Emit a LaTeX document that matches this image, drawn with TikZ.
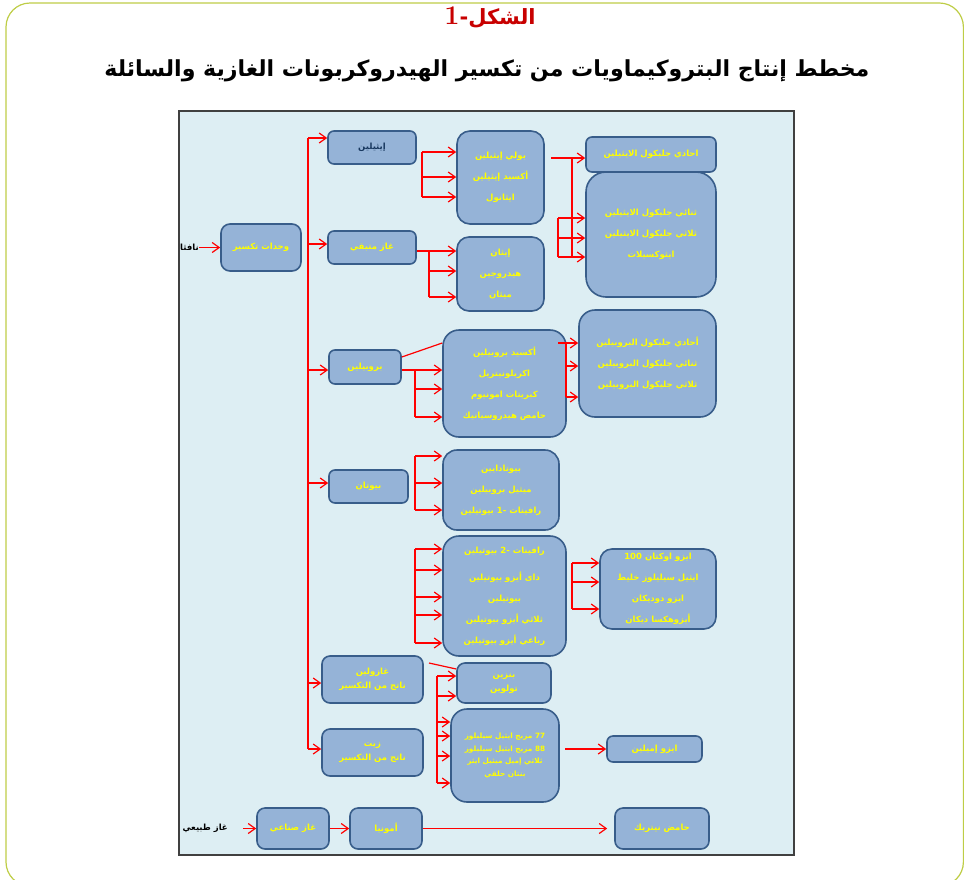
\documentclass[tikz,border=0pt]{standalone}
\usepackage{fontspec}
\usepackage{graphicx}
\usetikzlibrary{arrows.meta}
\TeXXeTstate=1
\newfontfamily\arabicfont[Script=Arabic]{DejaVu Sans}
\newcommand{\AR}[1]{\beginR #1\endR}
\newcommand{\LRn}[1]{\beginL #1\endL{}}
\definecolor{panelbg}{RGB}{221,238,243}
\definecolor{panelline}{RGB}{64,64,64}
\definecolor{boxfill}{RGB}{149,179,215}
\definecolor{boxline}{RGB}{56,93,138}
\definecolor{txtyellow}{RGB}{255,255,0}
\definecolor{txtnavy}{RGB}{23,55,94}
\definecolor{arrred}{RGB}{255,0,0}
\definecolor{titlered}{RGB}{200,0,0}
\definecolor{framegreen}{RGB}{190,205,70}
\tikzset{
  box/.style={draw=boxline, line width=1.6pt, fill=boxfill, rounded corners=6pt,
    inner sep=0pt, align=center, text=txtyellow,
    font=\arabicfont\bfseries\fontsize{8.5}{21}\selectfont},
  bigbox/.style={box, rounded corners=15pt},
  ln/.style={draw=arrred, line width=1.2pt},
  arr/.style={ln, -{Straight Barb[length=7pt,width=10pt]}},
  lbl/.style={inner sep=0pt, text=black, font=\arabicfont\bfseries\fontsize{8.5}{10}\selectfont}
}
\begin{document}
\begin{tikzpicture}[x=1pt,y=-1pt]
\useasboundingbox (0,0) rectangle (964,879);
% outer frame
\draw[framegreen, line width=1.2pt, rounded corners=24pt] (6,3) rectangle (963.4,886);
% titles
\node[text=titlered, font=\arabicfont\bfseries\fontsize{21}{24}\selectfont] (title) at (490,18)
  {\AR{الشكل-{\rmfamily\bfseries\fontsize{27}{27}\selectfont 1}}};
\node[inner sep=0pt] (subtitle) at (487,71)
  {\resizebox{765pt}{!}{\arabicfont\bfseries\AR{مخطط إنتاج البتروكيماويات من تكسير الهيدروكربونات الغازية والسائلة}}};
% panel
\draw[panelline, line width=1.5pt, fill=panelbg] (179,111) rectangle (794,855);

% boxes
\node[box, rounded corners=9pt, minimum width=80pt, minimum height=47pt] (crack) at (261,247.5) {\AR{وحدات تكسير}};
\node[box, minimum width=88pt, minimum height=33pt, text=txtnavy] (eth) at (372,147.5) {\AR{إيثيلين}};
\node[box, minimum width=88pt, minimum height=33pt] (rgas) at (372,247.5) {\AR{غاز متبقي}};
\node[bigbox, rounded corners=13pt, minimum width=87pt, minimum height=93pt] (ethp) at (500.5,177.5)
  {\AR{بولي إيثيلين}\\\AR{أكسيد إيثيلين}\\\AR{ايثانول}};
\node[bigbox, rounded corners=12pt, minimum width=87pt, minimum height=74pt] (rgasp) at (500.5,274)
  {\AR{إيثان}\\\AR{هيدروجين}\\\AR{ميثان}};
\node[box, minimum width=130pt, minimum height=35pt] (meg) at (651,154.5) {\AR{احادي جليكول الايثيلين}};
\node[bigbox, rounded corners=20pt, minimum width=130pt, minimum height=125pt] (glyc) at (651,234.5)
  {\AR{ثنائي جليكول الايثيلين}\\\AR{ثلاثي جليكول الايثيلين}\\\AR{ايثوكسيلات}};
\node[box, minimum width=72pt, minimum height=34pt] (prop) at (365,367) {\AR{بروبيلين}};
\node[bigbox, rounded corners=16pt, minimum width=123pt, minimum height=107pt] (propp) at (504.5,383.5)
  {\AR{أكسيد بروبيلين}\\\AR{اكريلونيتريل}\\\AR{كبريتات امونيوم}\\\AR{حامض هيدروسيانيك}};
\node[bigbox, rounded corners=16pt, minimum width=137pt, minimum height=107pt] (pgly) at (647.5,363.5)
  {\AR{أحادي جليكول البروبيلين}\\\AR{ثنائي جليكول البروبيلين}\\\AR{ثلاثي جليكول البروبيلين}};
\node[box, minimum width=79pt, minimum height=33pt] (but) at (368.5,486.5) {\AR{بيوتان}};
\node[bigbox, rounded corners=14pt, minimum width=116pt, minimum height=80pt] (butp) at (501,490)
  {\AR{بيوتادايين}\\\AR{ميثيل بروبيلين}\\\AR{رافينات \LRn{-1} بيوتيلين}};
\node[bigbox, rounded corners=16pt, minimum width=123pt, minimum height=120pt] (raf) at (504.5,596)
  {\AR{رافينات \LRn{-2} بيوتيلين}\\[6pt]\AR{داى أيزو بيوتيلين}\\\AR{بيوتيلين}\\\AR{ثلاثي أيزو بيوتيلين}\\\AR{رباعي أيزو بيوتيلين}};
\node[bigbox, rounded corners=12pt, minimum width=116pt, minimum height=80pt] (iso) at (658,589)
  {\AR{ايزو اوكتان \LRn{100}}\\\AR{ايثيل سيليلوز خليط}\\\AR{ايزو دوديكان}\\\AR{أيزوهكسا ديكان}};
\node[box, rounded corners=8pt, minimum width=101pt, minimum height=47pt, font=\arabicfont\bfseries\fontsize{8.5}{14.5}\selectfont] (gaso) at (372.5,679.5)
  {\AR{غازولين}\\\AR{ناتج من التكسير}};
\node[box, rounded corners=8pt, minimum width=101pt, minimum height=47pt, font=\arabicfont\bfseries\fontsize{8.5}{14.5}\selectfont] (oil) at (372.5,752.5)
  {\AR{زيت}\\\AR{ناتج من التكسير}};
\node[box, rounded corners=8pt, minimum width=94pt, minimum height=40pt, font=\arabicfont\bfseries\fontsize{8.5}{14}\selectfont] (benz) at (504,683)
  {\AR{بنزين}\\\AR{تولوين}};
\node[bigbox, rounded corners=16pt, minimum width=108pt, minimum height=93pt, font=\arabicfont\bfseries\fontsize{7.3}{12.7}\selectfont] (ethyl) at (505,755.5)
  {\AR{\LRn{77} مزيج ايثيل سيليلوز}\\\AR{\LRn{88} مزيج ايثيل سيليلوز}\\\AR{ثلاثي إميل ميثيل ايثر}\\\AR{بنتان حلقي}};
\node[box, minimum width=95pt, minimum height=26pt] (isoam) at (654.5,749) {\AR{ايزو إميلين}};
\node[box, rounded corners=8pt, minimum width=72pt, minimum height=41pt] (synth) at (293,828.5) {\AR{غاز صناعي}};
\node[box, rounded corners=8pt, minimum width=72pt, minimum height=41pt] (amm) at (386,828.5) {\AR{أمونيا}};
\node[box, rounded corners=8pt, minimum width=94pt, minimum height=41pt] (nitric) at (662,828.5) {\AR{حامض نيتريك}};

% labels
\node[lbl, anchor=east] (nafta) at (199,247.5) {\AR{نافثا}};
\node[lbl, anchor=east] (ngas) at (228,828.5) {\AR{غاز طبيعي}};

% trunk
\coordinate (tTop) at (308,138);
\coordinate (tBot) at (308,749);
\draw[ln] (tTop) -- (tBot);
\draw[arr] (nafta.east) -- (crack.west);
\draw[arr] (tTop) -- (eth.west |- tTop);
\draw[arr] (308,244) -- (rgas.west |- 0,244);
\draw[arr] (308,370) -- (prop.west |- 0,370);
\draw[arr] (308,483) -- (but.west |- 0,483);
\draw[arr] (308,683) -- (gaso.west |- 0,683);
\draw[arr] (tBot) -- (oil.west |- tBot);

% ethylene -> products
\draw[ln] (422,152) -- (422,197);
\foreach \yy in {152,177,197} \draw[arr] (422,\yy) -- (ethp.west |- 0,\yy);
% residual gas -> products
\draw[ln] (rgas.east |- 0,251) -- (429,251) -- (429,297);
\foreach \yy in {251,271,297} \draw[arr] (429,\yy) -- (rgasp.west |- 0,\yy);
% ethylene products -> glycols
\draw[arr] (551,158) -- (meg.west |- 0,158);
\draw[ln] (572,158) -- (572,257);
\draw[ln] (558,218) -- (558,257);
\foreach \yy in {218,238,257} \draw[arr] (558,\yy) -- (glyc.west |- 0,\yy);
% propylene
\draw[ln] (prop.east |- 0,357) -- (propp.west |- 0,343);
\draw[ln] (prop.east |- 0,370) -- (415,370) -- (415,417);
\foreach \yy in {370,389,417} \draw[arr] (415,\yy) -- (propp.west |- 0,\yy);
\draw[ln] (566,343) -- (566,397);
\draw[arr] (558,343) -- (pgly.west |- 0,343);
\foreach \yy in {366,397} \draw[arr] (566,\yy) -- (pgly.west |- 0,\yy);
% butane
\draw[ln] (415,456) -- (415,510);
\foreach \yy in {456,483,510} \draw[arr] (415,\yy) -- (butp.west |- 0,\yy);
% raffinate 2
\draw[ln] (415,549) -- (415,643);
\foreach \yy in {549,570,597,615,643} \draw[arr] (415,\yy) -- (raf.west |- 0,\yy);
% isooctane
\draw[ln] (572,563) -- (572,609);
\foreach \yy in {563,582,609} \draw[arr] (572,\yy) -- (iso.west |- 0,\yy);
% gasoline
\draw[ln] (429,663) -- (benz.west |- 0,669);
\draw[ln] (437,676) -- (437,783);
\foreach \yy in {676,696} \draw[arr] (437,\yy) -- (benz.west |- 0,\yy);
\foreach \yy in {722,736,756,783} \draw[arr] (437,\yy) -- (ethyl.west |- 0,\yy);
\draw[arr] (565,749) -- (isoam.west);
% bottom row
\draw[arr] ([xshift=15pt]ngas.east) -- (synth.west);
\draw[arr] (synth.east) -- (amm.west);
\draw[arr, shorten >=7pt] (amm.east) -- (nitric.west);
\end{tikzpicture}
\end{document}
